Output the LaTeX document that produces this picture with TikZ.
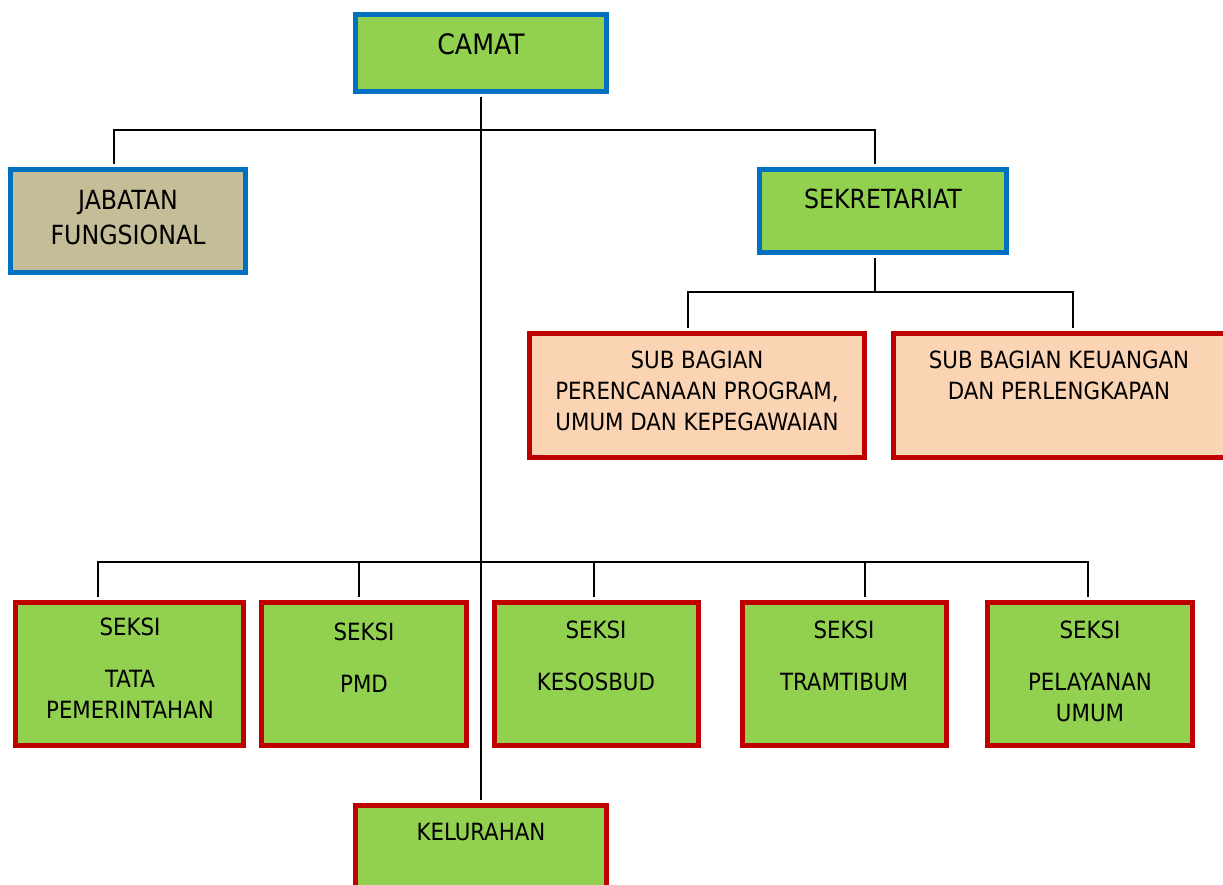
\documentclass[tikz,border=0pt]{standalone}
\usepackage{fontspec}
\setmainfont{DejaVu Sans Condensed}
\usetikzlibrary{positioning}

\definecolor{boxgreen}{HTML}{92D050}
\definecolor{boxblue}{HTML}{0070C0}
\definecolor{boxred}{HTML}{C00000}
\definecolor{boxtan}{HTML}{C4BD97}
\definecolor{boxpeach}{HTML}{FBD4B4}

\tikzset{
  unit/.style={draw, line width=0.1cm, outer sep=0.11cm, inner sep=0pt},
  head/.style={unit, draw=boxblue, fill=boxgreen},
  staff/.style={unit, draw=boxblue, fill=boxtan},
  subpart/.style={unit, draw=boxred, fill=boxpeach},
  section/.style={unit, draw=boxred, fill=boxgreen},
  link/.style={draw=black, line width=0.04cm},
  lbl/.style={align=center, font=\fontsize{13.5}{17.6}\selectfont},
  biglbl/.style={align=center, font=\fontsize{15}{19.8}\selectfont},
}

\begin{document}
\begin{tikzpicture}[x=0.02cm,y=-0.02cm]
  \useasboundingbox (0,0) rectangle (1223,885);
  \clip (0,0) rectangle (1223,885);

  %top level
  \node[head, minimum width=5.02cm, minimum height=1.54cm] (camat) at (481,53) {};
  \node[staff, minimum width=4.70cm, minimum height=2.06cm] (jabatan) at (128,221) {};
  \node[head, minimum width=4.94cm, minimum height=1.66cm] (sekretariat) at (883,211) {};

  %sub bagian
  \node[subpart, minimum width=6.70cm, minimum height=2.48cm] (subprog) at (697,395.5) {};
  \node[subpart, minimum width=6.80cm, minimum height=2.48cm] (subkeu) at (1063.5,395.5) {};

  \node[section, minimum width=5.02cm, minimum height=1.94cm] (kelurahan) at (481,854) {};

  %connectors
  \draw[link] (camat.south) -- (kelurahan.north);
  \draw[link] ([xshift=-0.28cm]jabatan.north) -- ++(0,-34)
    -| ([xshift=-0.16cm]sekretariat.north);
  \draw[link] ([xshift=-0.16cm]sekretariat.south) -- ++(0,34) coordinate (sbus);
  \draw[link] ([xshift=-0.18cm]subprog.north) |- (sbus)
    -| ([xshift=0.19cm]subkeu.north);

  \coordinate (kbus) at (481,562);
  \foreach \n/\x/\w/\dx in {1/129.5/4.56/-31.5, 2/364/4.10/-5, 3/596.5/4.08/-2.5,
                            4/844.5/4.08/20.5, 5/1090/4.10/-2} {
    \node[section, minimum width=\w cm, minimum height=2.86cm] (seksi\n) at (\x,674) {};
    \draw[link] ([xshift={\dx*0.02cm}]seksi\n.north) |- (kbus);
  }

  %labels
  \node[font=\fontsize{16}{19}\selectfont] (camat-t) at (481,44) {CAMAT};
  \node[biglbl] (jabatan-t) at (128,217.5) {JABATAN\\FUNGSIONAL};
  \node[biglbl] (sekretariat-t) at (883,199) {SEKRETARIAT};
  \node[lbl] (subprog-t) at (697,391) {SUB BAGIAN\\PERENCANAAN PROGRAM,\\UMUM DAN KEPEGAWAIAN};
  \node[lbl] (subkeu-t) at (1059,375.5) {SUB BAGIAN KEUANGAN\\DAN PERLENGKAPAN};
  \node[lbl] (seksi1-t) at (130,668.5) {SEKSI\\[0.42cm]TATA\\PEMERINTAHAN};
  \node[lbl] (seksi2-t) at (364,658) {SEKSI\\[0.42cm]PMD};
  \node[lbl] (seksi3-t) at (596,655.5) {SEKSI\\[0.42cm]KESOSBUD};
  \node[lbl] (seksi4-t) at (844,655.5) {SEKSI\\[0.42cm]TRAMTIBUM};
  \node[lbl] (seksi5-t) at (1090,671) {SEKSI\\[0.42cm]PELAYANAN\\UMUM};
  \node[lbl] (kelurahan-t) at (481,832) {KELURAHAN};
\end{tikzpicture}
\end{document}
